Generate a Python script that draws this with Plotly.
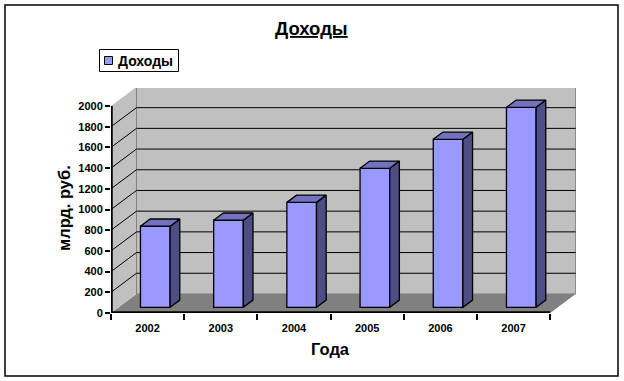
import plotly.graph_objects as go

# ---- data ----
categories = ["2002", "2003", "2004", "2005", "2006", "2007"]
values = [783, 841, 1014, 1343, 1623, 1932]
y_ticks = list(range(0, 2001, 200))
series_name = "Доходы"

# ---- pseudo-3D geometry, in axis units ----
WALL_DX, WALL_DY = 0.348, 184.0      # depth of the box
BAR_DX, BAR_DY = 0.132, 70.0         # depth of one bar
BAR_WIDTH = 0.405
BAR_SHIFT = 0.105                    # bar front plane sits inside the box
BAR_BASE = 55.0
N = len(categories)

# ---- page geometry, in pixels ----
W, H = 624, 381
L, R, T, B = 111, 48, 88, 68
PW, PH = W - L - R, H - T - B
X_MAX = PW / 73.2
Y_MAX = PH / 0.1035

def px(x):
    return (x - L) / PW

def py(y):
    return 1 - (y - T) / PH

FRONT = "#9999FF"
SIDE = "#4E4E85"
TOP = "#7272BF"
WALL = "#C0C0C0"
FLOOR = "#808080"
EDGE = "#808080"
FONT = "Liberation Sans"


def poly(points):
    return "M" + "L".join(f"{a},{b}" for a, b in points) + "Z"


shapes = []
# floor, side wall, back wall
shapes.append(dict(type="path", xref="x", yref="y", layer="below", fillcolor=FLOOR, line=dict(width=0),
                   path=poly([(0, 0), (N, 0), (N + WALL_DX, WALL_DY), (WALL_DX, WALL_DY)])))
shapes.append(dict(type="path", xref="x", yref="y", layer="below", fillcolor=WALL, line=dict(width=0),
                   path=poly([(0, 0), (WALL_DX, WALL_DY), (WALL_DX, 2000 + WALL_DY), (0, 2000)])))
shapes.append(dict(type="path", xref="x", yref="y", layer="below", fillcolor=WALL, line=dict(width=1, color=EDGE),
                   path=poly([(WALL_DX, WALL_DY), (N + WALL_DX, WALL_DY), (N + WALL_DX, 2000 + WALL_DY), (WALL_DX, 2000 + WALL_DY)])))
# gridlines on both walls
for t in y_ticks[1:-1]:
    shapes.append(dict(type="path", xref="x", yref="y", layer="below", line=dict(width=1, color="black"),
                       path=f"M0,{t}L{WALL_DX},{t + WALL_DY}L{N + WALL_DX},{t + WALL_DY}"))
# axis lines
shapes.append(dict(type="line", xref="x", yref="y", x0=0, x1=0, y0=0, y1=2000, layer="above",
                   line=dict(width=3.5, color="black")))
shapes.append(dict(type="line", xref="x", yref="y", x0=0, x1=N, y0=0, y1=0, layer="above",
                   line=dict(width=3.5, color="black")))
# outer frame and legend box
shapes.append(dict(type="rect", xref="paper", yref="paper", x0=px(5), x1=px(618), y0=py(5), y1=py(376),
                   line=dict(width=1.5, color="black"), layer="below"))
shapes.append(dict(type="rect", xref="paper", yref="paper", x0=px(99.5), x1=px(178.5), y0=py(49.5), y1=py(71.5),
                   line=dict(width=1, color="black"), fillcolor="white"))
shapes.append(dict(type="rect", xref="paper", yref="paper", x0=px(104.5), x1=px(112.5), y0=py(56.5), y1=py(64.5),
                   line=dict(width=1, color="black"), fillcolor=FRONT))

fig = go.Figure()

centers = [i + 0.5 + BAR_SHIFT for i in range(N)]

# front faces
fig.add_trace(go.Bar(x=centers, y=values, base=[BAR_BASE] * N, width=BAR_WIDTH, name=series_name,
                     marker=dict(color=FRONT, line=dict(color="black", width=1.3)), showlegend=False))

# side and top faces
for c, v in zip(centers, values):
    x0, x1 = c - BAR_WIDTH / 2, c + BAR_WIDTH / 2
    y0, y1 = BAR_BASE, BAR_BASE + v
    fig.add_trace(go.Scatter(
        x=[x1, x1 + BAR_DX, x1 + BAR_DX, x1, x1], y=[y0, y0 + BAR_DY, y1 + BAR_DY, y1, y0],
        mode="lines", fill="toself", fillcolor=SIDE, line=dict(color="black", width=1.3),
        showlegend=False, hoverinfo="skip"))
    fig.add_trace(go.Scatter(
        x=[x0, x1, x1 + BAR_DX, x0 + BAR_DX, x0], y=[y1, y1, y1 + BAR_DY, y1 + BAR_DY, y1],
        mode="lines", fill="toself", fillcolor=TOP, line=dict(color="black", width=1.3),
        showlegend=False, hoverinfo="skip"))

annotations = [
    dict(text="<b>Доходы</b>", xref="paper", yref="paper", x=px(116), y=py(60.5), xanchor="left", yanchor="middle",
         showarrow=False, font=dict(family=FONT, size=14, color="black")),
    dict(text="<b><u>Доходы</u></b>", xref="paper", yref="paper", x=px(311), y=py(29), xanchor="center", yanchor="middle",
         showarrow=False, font=dict(family=FONT, size=18.5, color="black")),
    dict(text="<b>Года</b>", xref="paper", yref="paper", x=px(330), y=py(349), xanchor="center", yanchor="middle",
         showarrow=False, font=dict(family=FONT, size=16.5, color="black")),
    dict(text="<b>млрд. руб.</b>", xref="paper", yref="paper", x=px(64), y=py(208), xanchor="center", yanchor="middle",
         textangle=-90, showarrow=False, font=dict(family=FONT, size=16.5, color="black")),
]

fig.update_layout(
    width=W, height=H, margin=dict(l=L, r=R, t=T, b=B, autoexpand=False),
    paper_bgcolor="white", plot_bgcolor="white", showlegend=False,
    shapes=shapes, annotations=annotations,
    xaxis=dict(range=[0, X_MAX], tickmode="array",
               tickvals=list(range(N + 1)), ticktext=[""] * (N + 1),
               ticks="outside", ticklen=6, tickwidth=2, tickcolor="black",
               showgrid=False, zeroline=False, showline=False),
    yaxis=dict(range=[0, Y_MAX], tickmode="array", tickvals=y_ticks,
               ticktext=[f"<b>{t}</b>" for t in y_ticks],
               ticks="outside", ticklen=5, tickwidth=2, tickcolor="black",
               tickfont=dict(family=FONT, size=11, color="black"),
               showgrid=False, zeroline=False, showline=False),
    xaxis2=dict(range=[0, X_MAX], overlaying="x", side="bottom", anchor="y", tickmode="array",
                tickvals=[i + 0.5 for i in range(N)], ticktext=[f"<b>{c}</b>" for c in categories],
                ticks="", ticklabelstandoff=7,
                tickfont=dict(family=FONT, size=11, color="black"),
                showgrid=False, zeroline=False, showline=False),
)
fig.add_trace(go.Scatter(x=[i + 0.5 for i in range(N)], y=[0] * N, xaxis="x2", mode="markers",
                         marker=dict(opacity=0), showlegend=False, hoverinfo="skip"))

fig.write_html("out.html", config=dict(displayModeBar=False),
               post_script="document.body.style.margin='0';document.body.style.overflow='hidden';")
